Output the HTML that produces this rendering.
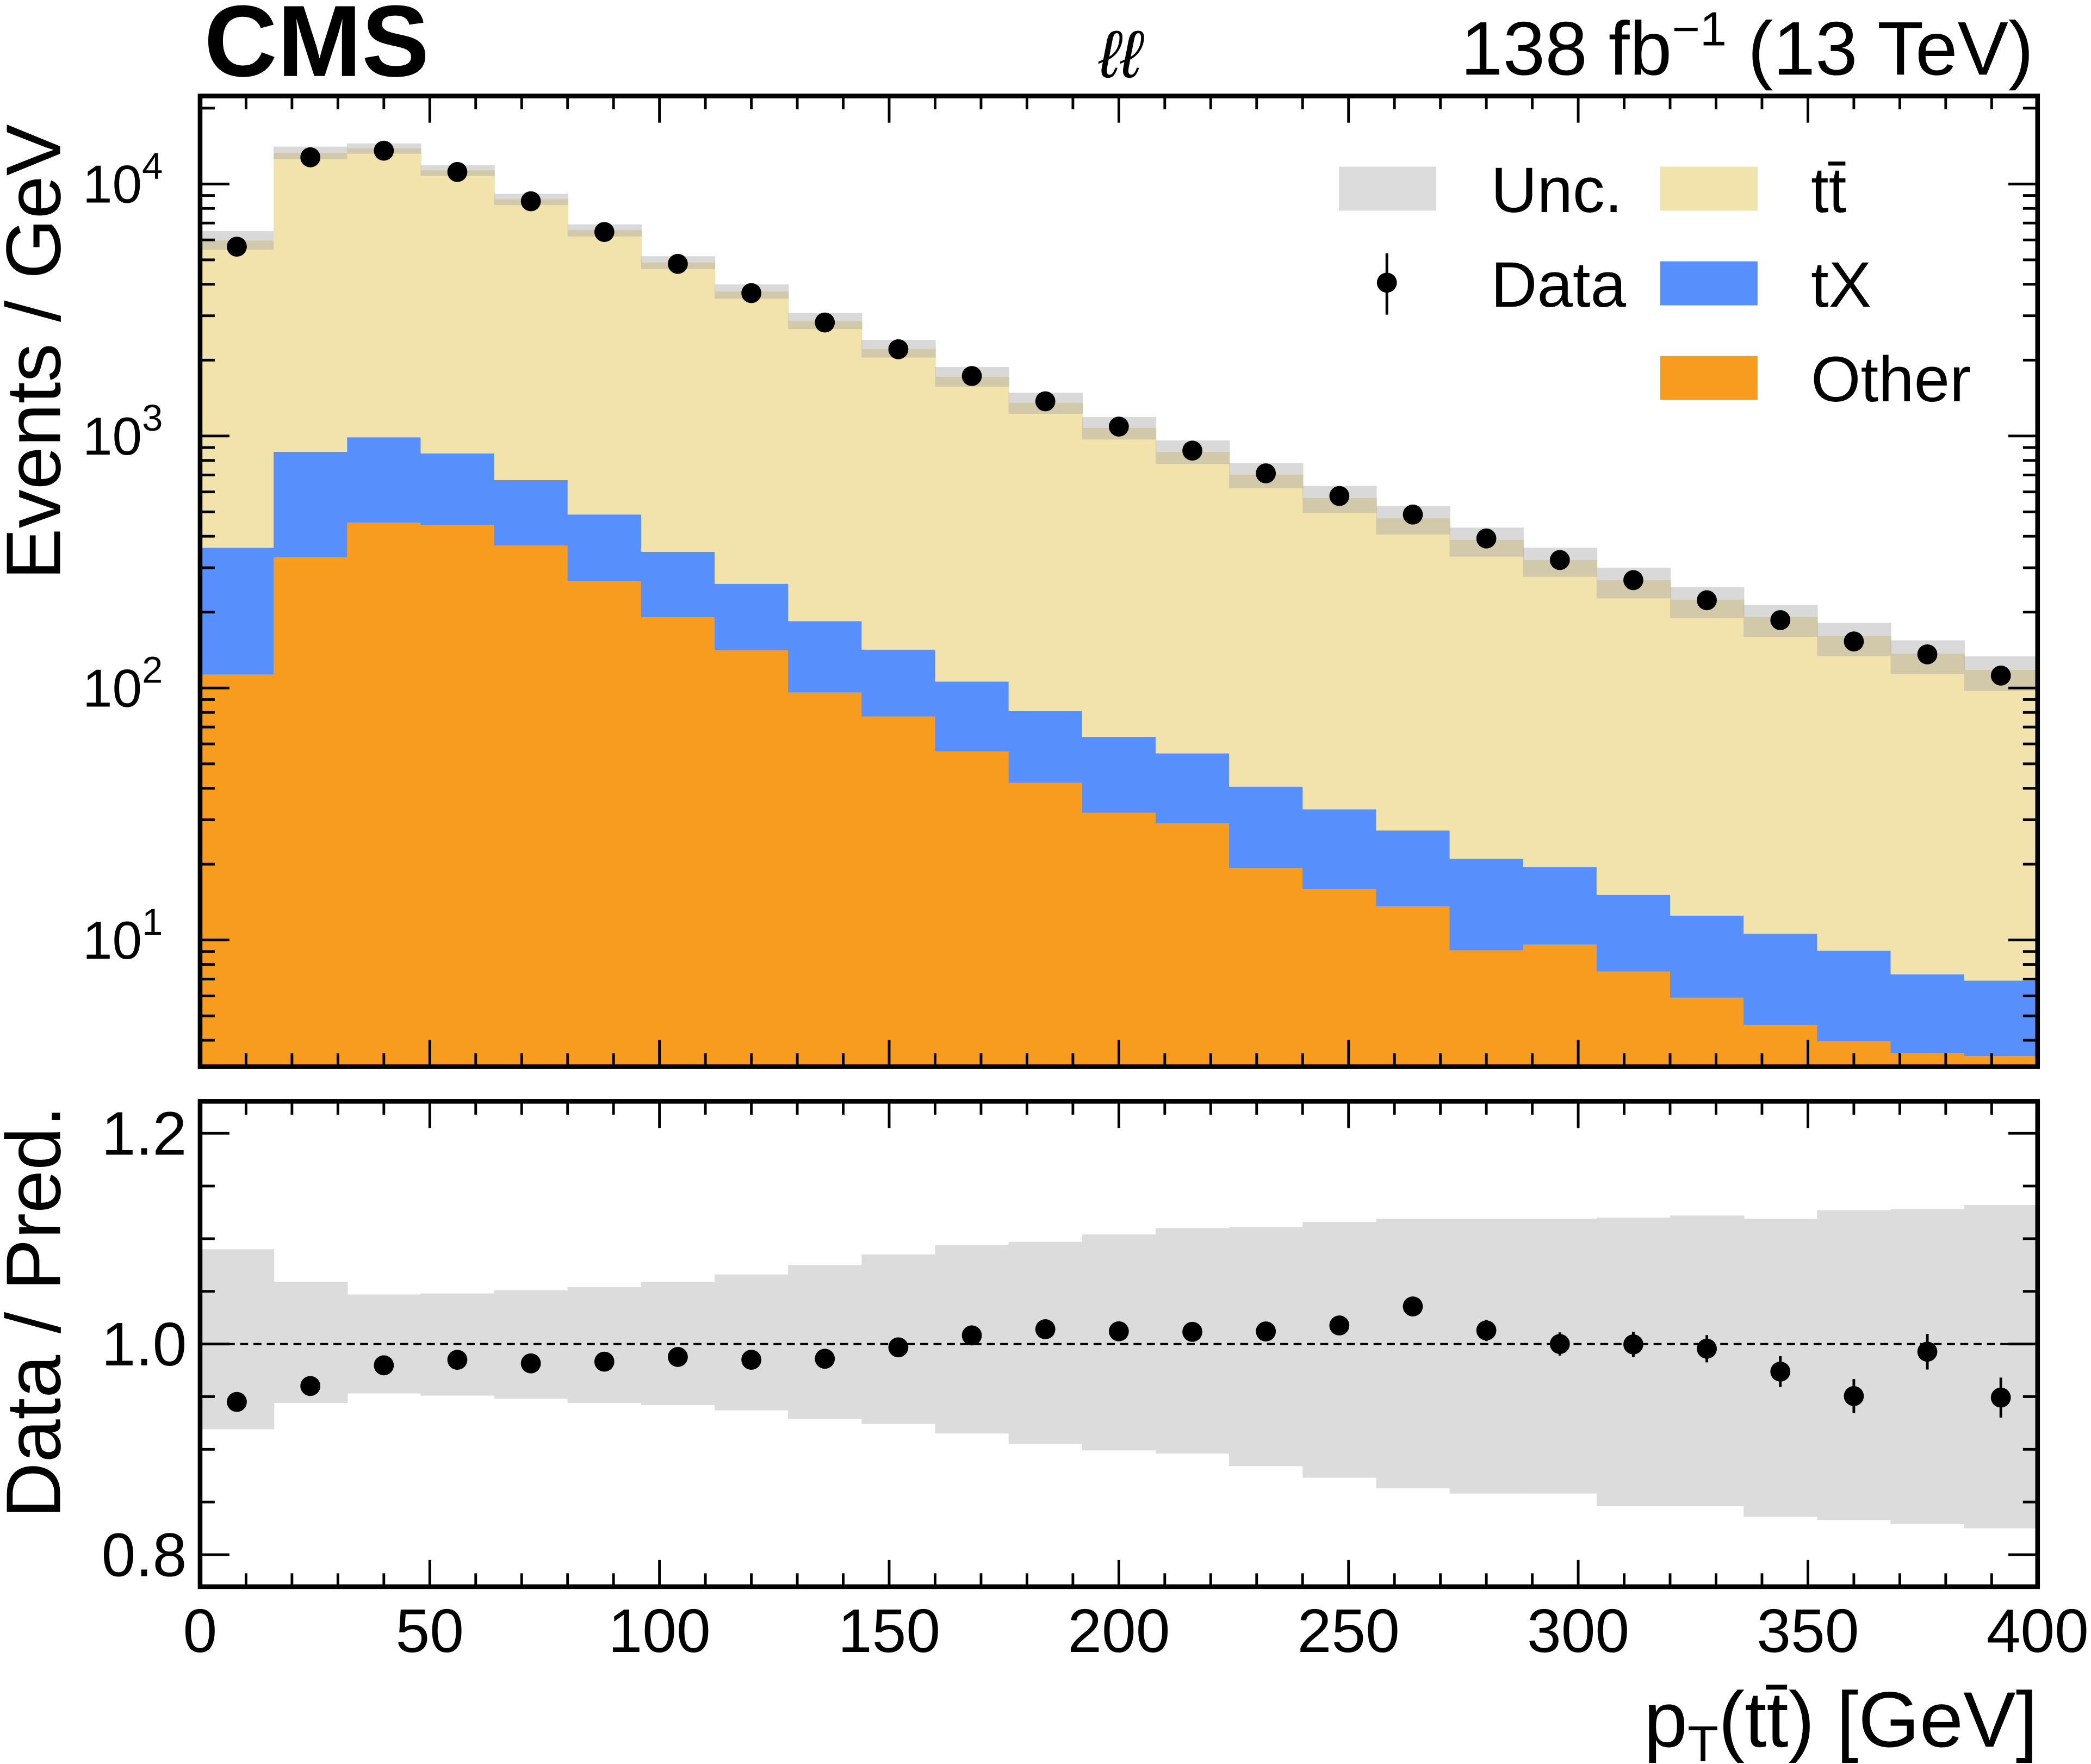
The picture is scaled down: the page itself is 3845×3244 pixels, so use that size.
<!DOCTYPE html>
<html><head><meta charset="utf-8"><style>
html,body{margin:0;padding:0;background:#fff}
svg{display:block}
text{font-family:"Liberation Sans",Arial,sans-serif;fill:#000}
</style></head><body>
<svg id="c" width="3845" height="3244" viewBox="0 0 1568 1323" xmlns="http://www.w3.org/2000/svg"></svg>
<script>
const binEdges = [0,16,32,48,64,80,96,112,128,144,160,176,192,208,224,240,256,272,288,304,320,336,352,368,384,400];
const dataVals = [5640,12760,13560,11160,8540,6450,4820,3690,2820,2210,1730,1373,1090,875,711,578,488,392,322,268,223,186,153,136,112];
const dataErrRel = [0.003,0.002,0.002,0.002,0.002,0.003,0.003,0.003,0.004,0.004,0.005,0.005,0.006,0.006,0.007,0.008,0.009,0.01,0.011,0.012,0.013,0.015,0.017,0.017,0.02];
const otherVals = [113,330,453,443,368,265,191,141,96,77,56,42,32,29,19.3,15.9,13.6,9.1,9.6,7.5,5.9,4.6,3.96,3.55,3.46];
const tXVals = [247,535,535,410,300,223,156,118,88,65,50,39,32,26,21.3,17.1,13.6,11.9,9.9,7.6,6.6,6.0,5.1,3.75,3.44];
const ttbarVals = [5608,12425,12852,10477,8032,6072,4533,3487,2676,2075,1610,1273,1013,810,662,535,444,366,302.5,253,211.5,180.4,151.9,129.7,111.1];
const uncUp = [0.090,0.059,0.047,0.048,0.051,0.054,0.059,0.066,0.075,0.085,0.094,0.097,0.104,0.110,0.111,0.116,0.119,0.119,0.119,0.120,0.122,0.119,0.127,0.128,0.132];
const uncDown = [0.081,0.056,0.047,0.049,0.052,0.056,0.058,0.063,0.071,0.076,0.085,0.095,0.101,0.104,0.116,0.127,0.137,0.142,0.142,0.154,0.154,0.164,0.167,0.171,0.175];
const xTicks = [0,50,100,150,200,250,300,350,400];
const ratioTicks = [0.8,1.0,1.2];

const NS="http://www.w3.org/2000/svg";
const svg=document.getElementById('c');
function el(tag,attrs,parent){const e=document.createElementNS(NS,tag);for(const k in attrs)e.setAttribute(k,attrs[k]);(parent||svg).appendChild(e);return e;}
const X0=150,X1=1528,T0=72,T1=800,R0=826,R1=1190;
const xs=v=>X0+(v-0)/400*(X1-X0);
const ys=v=>138-(Math.log10(v)-4)*189;
const yr=v=>1008-(v-1)/0.2*158;
const clipT=el('clipPath',{id:'ct'});el('rect',{x:X0,y:T0,width:X1-X0,height:T1-T0},clipT);
const clipR=el('clipPath',{id:'cr'});el('rect',{x:X0,y:R0,width:X1-X0,height:R1-R0},clipR);
const gT=el('g',{'clip-path':'url(#ct)'});
const gR=el('g',{'clip-path':'url(#cr)'});
const n=dataVals.length;
const total=[];
for(let i=0;i<n;i++) total.push(otherVals[i]+tXVals[i]+ttbarVals[i]);
function stepRect(i,lo,hi,fill,g,name){
  const r=el('rect',{x:xs(binEdges[i]),y:Math.min(lo,hi),width:xs(binEdges[i+1])-xs(binEdges[i])+0.5,height:Math.abs(lo-hi),fill:fill},g);
  
  
}
for(let i=0;i<n;i++){
  const a=otherVals[i],b=a+tXVals[i],c=total[i];
  stepRect(i,T1+5,ys(a),'#f89c20',gT,'other-bar');
  stepRect(i,ys(a),ys(b),'#5790fc',gT,'tx-bar');
  stepRect(i,ys(b),ys(c),'#f2e2ab',gT,'ttbar-bar');
  stepRect(i,ys(c*(1-uncDown[i])),ys(c*(1+uncUp[i])),'rgba(170,170,170,0.45)',gT,'unc-band');
  stepRect(i,yr(1-uncDown[i]),yr(1+uncUp[i]),'#dcdcdc',gR,'ratio-unc-band');
}
el('line',{x1:X0,x2:X1,y1:yr(1),y2:yr(1),stroke:'#000','stroke-width':1.5,'stroke-dasharray':'6,4'},gR);
for(let i=0;i<n;i++){
  const cx=xs((binEdges[i]+binEdges[i+1])/2);
  const d=el('circle',{cx:cx,cy:ys(dataVals[i]),r:7.5,fill:'#000'},gT);
  
  
  const r=dataVals[i]/total[i], e=r*dataErrRel[i];
  el('line',{x1:cx,x2:cx,y1:yr(r-e),y2:yr(r+e),stroke:'#000','stroke-width':2},gR);
  const p=el('circle',{cx:cx,cy:yr(r),r:7.5,fill:'#000'},gR);
  
  
}
for(const [a,b] of [[T0,T1],[R0,R1]]) el('rect',{x:X0,y:a,width:X1-X0,height:b-a,fill:'none',stroke:'#000','stroke-width':3.5});
for(let v=0;v<=400;v+=10){
  const L=(v%50===0)?20:10;
  for(const [a,b] of [[T0,T1],[R0,R1]]){
    el('line',{x1:xs(v),x2:xs(v),y1:a,y2:a+L,stroke:'#000','stroke-width':2});
    el('line',{x1:xs(v),x2:xs(v),y1:b,y2:b-L,stroke:'#000','stroke-width':2});
  }
}
xTicks.forEach(v=>{const t=el('text',{x:xs(v),y:1239,'font-size':46,'text-anchor':'middle'});t.textContent=v;});
for(let d=0;d<=4;d++){for(let m=1;m<=9;m++){const v=m*Math.pow(10,d);const y=ys(v);if(y<T0||y>T1)continue;const L=m===1?22:11;
  el('line',{x1:X0,x2:X0+L,y1:y,y2:y,stroke:'#000','stroke-width':2});
  el('line',{x1:X1,x2:X1-L,y1:y,y2:y,stroke:'#000','stroke-width':2});
  if(m===1&&d>=1){const t=el('text',{x:122,y:y+14,'font-size':40,'text-anchor':'end'});
    t.innerHTML='10<tspan dy="-18" font-size="28">'+d+'</tspan>';}
}}
for(let v=0.8;v<=1.2301;v+=0.05){const y=yr(v);const major=Math.abs(Math.round(v*10)/10-v)<1e-6&&Math.round(v*10)%2===0;const L=major?22:11;
  el('line',{x1:X0,x2:X0+L,y1:y,y2:y,stroke:'#000','stroke-width':2});
  el('line',{x1:X1,x2:X1-L,y1:y,y2:y,stroke:'#000','stroke-width':2});}
ratioTicks.forEach(v=>{const t=el('text',{x:140,y:yr(v)+16,'font-size':46,'text-anchor':'end'});t.textContent=v.toFixed(1);});
</script>
<svg width="3845" height="3244" viewBox="0 0 1568 1323" style="position:absolute;left:0;top:0" xmlns="http://www.w3.org/2000/svg">
<text x="153" y="57" font-size="76" font-weight="bold">CMS</text>
<text x="840" y="58" font-size="50" font-style="italic" text-anchor="middle">ℓℓ</text>
<text x="1525" y="56" font-size="57" text-anchor="end">138 fb<tspan dy="-22" font-size="36">−1</tspan><tspan dy="22"> (13 TeV)</tspan></text>
<text transform="translate(45,264) rotate(-90)" font-size="58" text-anchor="middle">Events / GeV</text>
<text transform="translate(45,984) rotate(-90)" font-size="58" text-anchor="middle">Data / Pred.</text>
<text x="1528" y="1310" font-size="59" text-anchor="end">p<tspan dy="11" font-size="38">T</tspan><tspan dy="-11">(tt̄) [GeV]</tspan></text>
<g>
<rect x="1004" y="125" width="73" height="33" fill="#dcdcdc"/>
<text x="1118" y="159" font-size="48">Unc.</text>
<rect x="1245" y="125" width="73" height="33" fill="#f2e2ab"/>
<text x="1358" y="159" font-size="48">tt̄</text>
<line x1="1040" x2="1040" y1="190" y2="236" stroke="#000" stroke-width="2"/>
<circle cx="1040" cy="212" r="7.5" fill="#000"/>
<text x="1118" y="230" font-size="48">Data</text>
<rect x="1245" y="196" width="73" height="33" fill="#5790fc"/>
<text x="1358" y="230" font-size="48">tX</text>
<rect x="1245" y="267" width="73" height="33" fill="#f89c20"/>
<text x="1358" y="301" font-size="48">Other</text>
</g>
</svg>
</body></html>
